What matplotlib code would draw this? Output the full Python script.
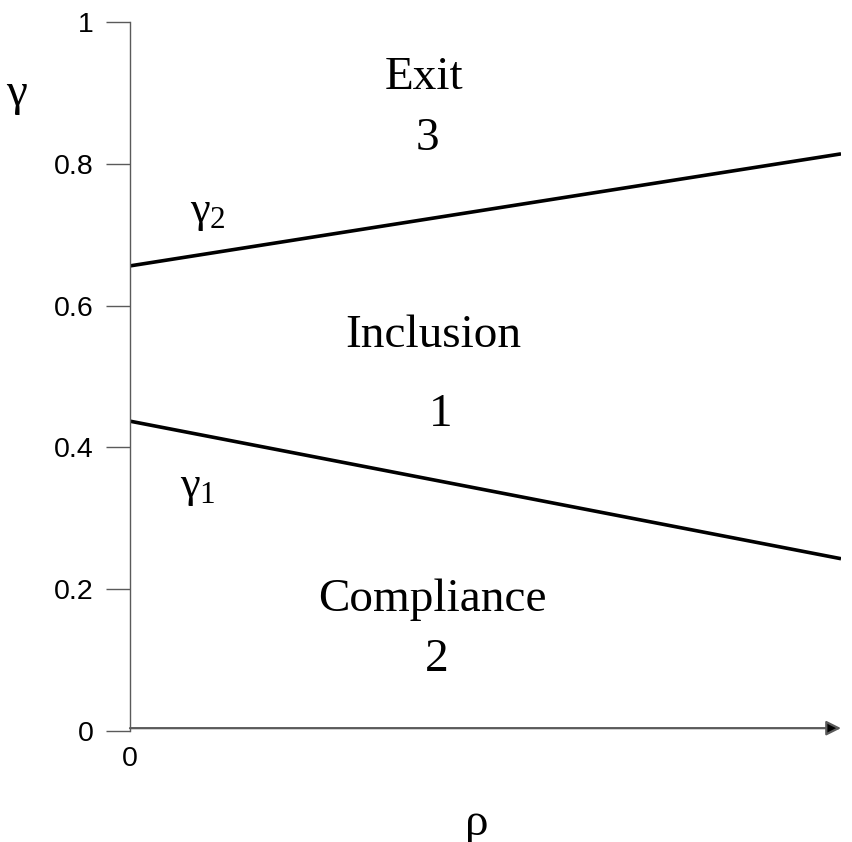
import numpy as np
import matplotlib.pyplot as plt

# boundary lines gamma_1(rho) and gamma_2(rho), end points over rho in [0, 1]
rho_ends = [0.0, 1.0]
gamma1_ends = [0.437, 0.243]
gamma2_ends = [0.656, 0.814]

y_ticks = [0, 0.2, 0.4, 0.6, 0.8, 1]
y_tick_labels = ["0", "0.2", "0.4", "0.6", "0.8", "1"]

# region names and numbers: (text, rho, gamma)
region_labels = [
    ("Exit", 0.413, 0.922),
    ("3", 0.419, 0.836),
    ("Inclusion", 0.426, 0.558),
    ("1", 0.437, 0.446),
    ("Compliance", 0.425, 0.185),
    ("2", 0.432, 0.101),
]

SERIF = "Liberation Serif"
SANS = "Liberation Sans"
AXIS_GREY = "#5a5a5a"

plt.rcParams["font.family"] = SANS
plt.rcParams["xtick.labelsize"] = 20.5
plt.rcParams["ytick.labelsize"] = 20.5
# upright greek letters in the math labels
plt.rcParams["mathtext.fontset"] = "custom"
plt.rcParams["mathtext.rm"] = SERIF
plt.rcParams["mathtext.it"] = SERIF

fig = plt.figure(figsize=(8.53, 8.42), dpi=100)
ax = fig.add_axes([130 / 853, 111 / 842, 711 / 853, 709 / 842])

ax.plot(rho_ends, gamma1_ends, color="black", lw=2.6, solid_capstyle="butt")
ax.plot(rho_ends, gamma2_ends, color="black", lw=2.6, solid_capstyle="butt")

ax.set_xlim(0, 1)
ax.set_ylim(0, 1)

for name in ["top", "right", "bottom"]:
    ax.spines[name].set_visible(False)
ax.spines["left"].set_color(AXIS_GREY)
ax.spines["left"].set_linewidth(1.0)

ax.set_yticks(y_ticks, y_tick_labels)
ax.tick_params(axis="y", length=17, width=1.0, color=AXIS_GREY, pad=9)
ax.set_xticks([0], ["0"])
ax.tick_params(axis="x", length=0, pad=11)

# rho axis with arrow head
ax.annotate("", xy=(1.0, 0.004), xytext=(0.0, 0.004),
            xycoords="axes fraction", textcoords="axes fraction",
            arrowprops=dict(arrowstyle="-|>", color=AXIS_GREY, lw=1.6,
                            mutation_scale=22, shrinkA=0, shrinkB=0,
                            fc="black", ec=AXIS_GREY),
            annotation_clip=False)

for text, x, y in region_labels:
    ax.text(x, y, text, ha="center", va="center", fontfamily=SERIF, fontsize=34)

ax.text(0.110, 0.732, r"$\gamma_2$", ha="center", va="center", fontsize=32)
ax.text(0.095, 0.344, r"$\gamma_1$", ha="center", va="center", fontsize=32)
ax.text(-0.159, 0.897, r"$\gamma$", ha="center", va="center", fontsize=34,
        clip_on=False)
ax.text(0.487, -0.133, r"$\rho$", ha="center", va="center", fontsize=34,
        clip_on=False)

fig.savefig("out.png", dpi=100)
